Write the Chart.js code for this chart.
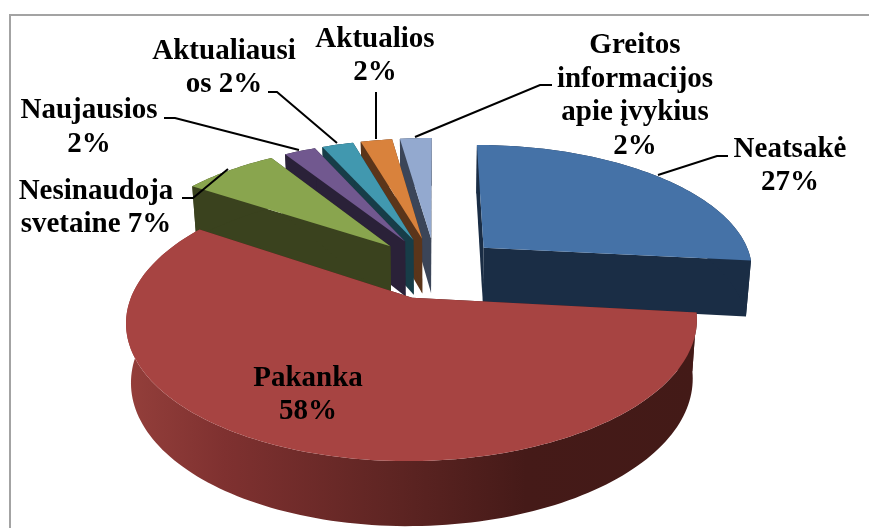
<!DOCTYPE html>
<html>
<head>
<meta charset="utf-8">
<title>Pie</title>
<script src="https://cdn.jsdelivr.net/npm/chart.js@4/dist/chart.umd.min.js"></script>
<style>
  html, body { margin: 0; padding: 0; background: #fff; }
  #wrap { width: 869px; height: 528px; }
</style>
</head>
<body>
<div id="wrap"><canvas id="pie" width="869" height="528"></canvas></div>
<script>
// data (printed labels are these rounded)
const categories = ['Neatsakė', 'Pakanka', 'Nesinaudoja svetaine', 'Naujausios', 'Aktualiausios', 'Aktualios', 'Greitos informacijos apie įvykius'];
const values = [26.7, 57.6, 6.7, 2.25, 2.25, 2.25, 2.25];
const topColors = ['#4572a7', '#a74442', '#89a54e', '#71588f', '#4198af', '#d9823c', '#93a9cf'];
const wallColors = ['#1a2d45', '#4a1c19', '#3a421e', '#2a2138', '#173d48', '#5b351a', '#3b4558'];
const labelLines = [
    ['Neatsakė', '27%'],
    ['Pakanka', '58%'],
    ['Nesinaudoja', 'svetaine 7%'],
    ['Naujausios', '2%'],
    ['Aktualiausi', 'os 2%'],
    ['Aktualios', '2%'],
    ['Greitos', 'informacijos', 'apie įvykius', '2%']
];

// label anchors: centre x, first baseline y, line step
const labelPos = [
    [790, 157, 33], [308, 386, 33], [96, 199, 33], [89, 118, 34],
    [224, 59, 33], [375, 47, 33], [635, 53, 33.6]
];
const leaders = [
    [[658, 175], [717, 156], [728, 156]],
    null,
    [[182, 198], [193, 198], [228, 169]],
    [[164, 118], [175, 118], [299, 150]],
    [[268, 92], [277, 92], [337, 143]],
    [[376, 92], [376, 139]],
    [[415, 137], [540, 85], [552, 85]]
];

// the "3D" camera the reference was drawn with
const cam = { x0: 435.5, y0: 297, rx: 281, ry: 135.3, persp: 0.17, lift: 0.225 };

function project(chart, el, px, py, down) {
    let r = el.outerRadius;
    let u = px / r;
    let v = -py / r + cam.lift;
    let s = 1 / (1 + cam.persp * v);
    let x = cam.x0 + cam.rx * u * s;
    let y = cam.y0 - cam.ry * v * s;
    if (down) {
        x = cam.x0 + (x - cam.x0) * 0.984;
        y = y + 58 - 7 * v;
    }
    return [x, y];
}

function slicePoints(el, shift) {
    // arc sampled on the element's own angles
    let pts = [];
    let n = Math.max(4, Math.ceil((el.endAngle - el.startAngle) * 40));
    for (let i = 0; i <= n; i++) {
        let a = el.startAngle + (el.endAngle - el.startAngle) * i / n;
        pts.push([shift[0] + Math.cos(a) * el.outerRadius, shift[1] + Math.sin(a) * el.outerRadius]);
    }
    return pts;
}

function fillPoly(ctx, pts, color) {
    ctx.beginPath();
    pts.forEach(function (p, i) {
        if (i === 0) ctx.moveTo(p[0], p[1]);
        else ctx.lineTo(p[0], p[1]);
    });
    ctx.closePath();
    ctx.fillStyle = color;
    ctx.fill();
}

const pie3d = {
    id: 'pie3d',
    beforeDraw(chart) {
        let ctx = chart.ctx;
        ctx.save();
        ctx.strokeStyle = '#a3a3a3';
        ctx.lineWidth = 2;
        ctx.beginPath();
        ctx.moveTo(869, 15);
        ctx.lineTo(10, 15);
        ctx.lineTo(10, 528);
        ctx.stroke();
        ctx.restore();
    },
    beforeDatasetDraw(chart, args) {
        let ctx = chart.ctx;
        let arcs = args.meta.data;
        let order = [6, 5, 4, 3, 2, 0, 1];
        ctx.save();
        order.forEach(function (i) {
            let el = arcs[i];
            let mid = (el.startAngle + el.endAngle) / 2;
            let off = el.options.offset / 4;
            let shift = [Math.cos(mid) * off, Math.sin(mid) * off];
            let rim = slicePoints(el, shift);
            let top = rim.map(p => project(chart, el, p[0], p[1], false));
            let bot = rim.map(p => project(chart, el, p[0], p[1], true));
            let tipT = project(chart, el, shift[0], shift[1], false);
            let tipB = project(chart, el, shift[0], shift[1], true);
            let wall = wallColors[i];

            // cut faces, then the curved wall, then the top
            fillPoly(ctx, [tipT, top[0], bot[0], tipB], wall);
            fillPoly(ctx, [tipT, top[top.length - 1], bot[bot.length - 1], tipB], wall);
            let curved = wall;
            if (i === 1) {
                curved = ctx.createLinearGradient(127, 0, 697, 0);
                curved.addColorStop(0, '#943f3b');
                curved.addColorStop(0.17, '#7f3130');
                curved.addColorStop(0.46, '#5f2523');
                curved.addColorStop(0.7, '#451a18');
                curved.addColorStop(1, '#431a17');
            }
            fillPoly(ctx, top.concat(bot.slice().reverse()), curved);
            fillPoly(ctx, [tipT].concat(top), topColors[i]);
        });
        ctx.restore();
        return false;
    },
    afterDatasetsDraw(chart) {
        let ctx = chart.ctx;
        ctx.save();
        ctx.strokeStyle = '#000';
        ctx.lineWidth = 2;
        leaders.forEach(function (line) {
            if (!line) return;
            ctx.beginPath();
            line.forEach(function (p, i) {
                if (i === 0) ctx.moveTo(p[0], p[1]);
                else ctx.lineTo(p[0], p[1]);
            });
            ctx.stroke();
        });
        ctx.fillStyle = '#000';
        ctx.font = 'bold 29px "Liberation Serif"';
        ctx.textAlign = 'center';
        ctx.textBaseline = 'alphabetic';
        labelLines.forEach(function (lines, i) {
            let pos = labelPos[i];
            lines.forEach(function (t, j) {
                ctx.fillText(t, pos[0], pos[1] + j * pos[2]);
            });
        });
        ctx.restore();
    }
};

let myChart = new Chart(document.getElementById('pie').getContext('2d'), {
    type: 'pie',
    data: {
        labels: categories,
        datasets: [{
            data: values,
            backgroundColor: topColors,
            borderWidth: 0,
            offset: 196,
            radius: 200
        }]
    },
    options: {
        responsive: false,
        animation: false,
        plugins: {
            legend: { display: false },
            tooltip: { enabled: false }
        }
    },
    plugins: [pie3d]
});
</script>
</body>
</html>
